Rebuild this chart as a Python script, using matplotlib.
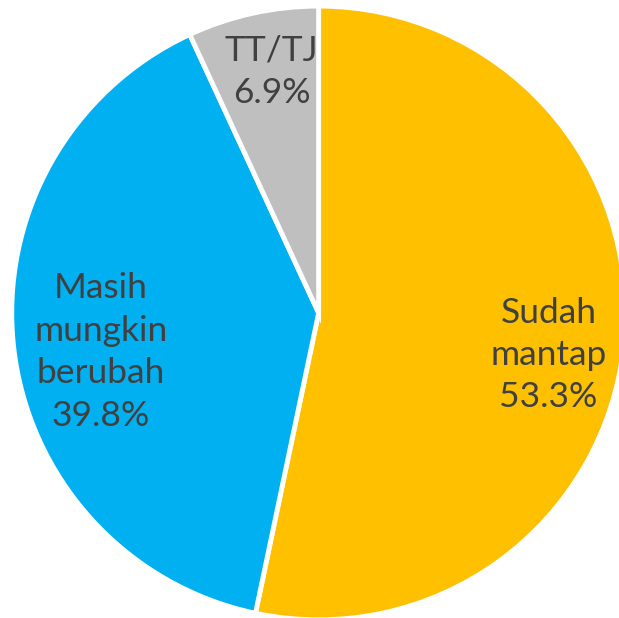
import matplotlib
matplotlib.use("Agg")
import matplotlib.pyplot as plt

# Data
labels = ["Sudah\nmantap", "Masih\nmungkin\nberubah", "TT/TJ"]
shares = [53.3, 39.8, 6.9]
colors = ["#FFC000", "#00B0F0", "#BFBFBF"]

# label positions in pie units (x, y), chosen to match the reference
label_pos = [(0.755, -0.138), (-0.715, -0.128), (-0.155, 0.792)]

plt.rcParams["font.family"] = ["Lato", "DejaVu Sans"]

fig = plt.figure(figsize=(6.19, 6.18), dpi=100)
ax = fig.add_axes([0, 0, 1, 1])

wedges, _ = ax.pie(shares, colors=colors, startangle=90, counterclock=False,
                   radius=1.008, center=(0, 0),
                   wedgeprops=dict(edgecolor="white", linewidth=3.5))

for lab, val, (x, y) in zip(labels, shares, label_pos):
    ax.text(x, y, f"{lab}\n{val:.1f}%", ha="center", va="center",
            fontsize=25.5, color="#404040", linespacing=1.4)

ax.set_xlim(-1.045, 0.985)
ax.set_ylim(-1.002, 1.028)
ax.set_aspect("equal")
ax.axis("off")

fig.savefig("out.png", dpi=100)
